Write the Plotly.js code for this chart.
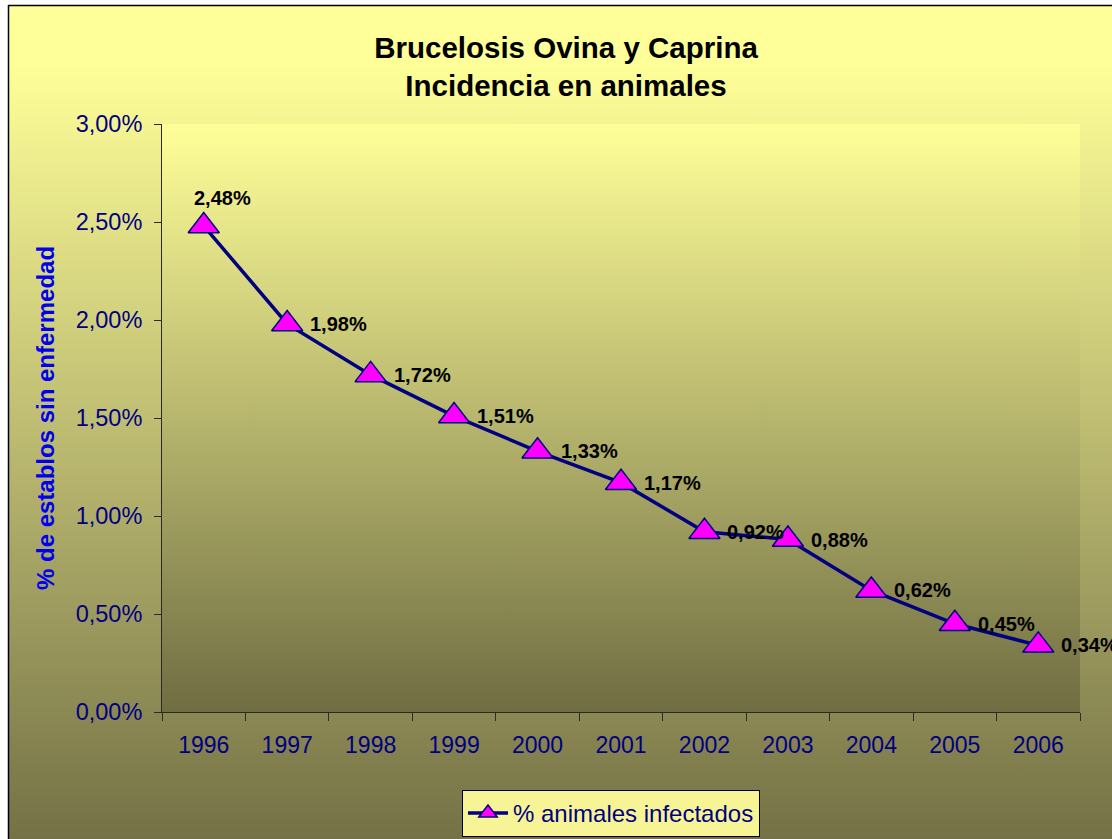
<!DOCTYPE html>
<html>
<head>
<meta charset="utf-8">
<script src="https://cdn.plot.ly/plotly-3.0.1.min.js"></script>
<style>
  html, body { margin: 0; padding: 0; background: #ffffff; }
  #chart { position: absolute; left: 0; top: 0; width: 1112px; height: 839px; }
</style>
</head>
<body>
<div id="chart"></div>
<script>
// ---- data ----
const years = ["1996","1997","1998","1999","2000","2001","2002","2003","2004","2005","2006"];
const infectados = [0.0248, 0.0198, 0.0172, 0.0151, 0.0133, 0.0117, 0.0092, 0.0088, 0.0062, 0.0045, 0.0034];
const seriesName = "% animales infectados";
const chartTitle = "Brucelosis Ovina y Caprina<br>Incidencia en animales";
const yTitle = "% de establos sin enfermedad";
const yTickVals = [0, 0.005, 0.01, 0.015, 0.02, 0.025, 0.03];

const FONT = "Liberation Sans, Arial, Helvetica, sans-serif";
const W = 1112, H = 839;
const M = {l: 162, r: 32, t: 124, b: 127, autoexpand: false};
const PW = W - M.l - M.r, PH = H - M.t - M.b;

function fmt(v) { return (v * 100).toFixed(2).replace('.', ',') + '%'; }

function gradSvg(c1, c2, o1) {
  const svg = "<svg xmlns='http://www.w3.org/2000/svg' width='100' height='100' preserveAspectRatio='none'>" +
    "<defs><linearGradient id='g' x1='0' y1='0' x2='0' y2='1'>" +
    "<stop offset='" + o1 + "' stop-color='" + c1 + "'/><stop offset='1' stop-color='" + c2 + "'/>" +
    "</linearGradient></defs><rect width='100' height='100' fill='url(#g)'/></svg>";
  return "data:image/svg+xml;base64," + btoa(svg);
}

// pixel -> paper helpers
const px = x => (x - M.l) / PW;
const py = y => (H - M.b - y) / PH;

const labelAnn = infectados.map((v, i) => i === 0 ? {
  x: i, y: v, xref: 'x', yref: 'y', text: '<b>' + fmt(v) + '</b>', showarrow: false,
  xanchor: 'center', yanchor: 'middle', xshift: 19, yshift: 28,
  font: {family: FONT, size: 20, color: '#000000'}
} : {
  x: i, y: v, xref: 'x', yref: 'y', text: '<b>' + fmt(v) + '</b>', showarrow: false,
  xanchor: 'left', yanchor: 'middle', xshift: 21, yshift: 0,
  font: {family: FONT, size: 20, color: '#000000'}
});

const trace = {
  x: years, y: infectados, type: 'scatter', mode: 'lines+markers', name: seriesName,
  line: {color: '#000080', width: 3.5},
  marker: {symbol: 'triangle-up', size: 27, color: '#FF00FF', line: {color: '#000080', width: 1.5}},
  cliponaxis: false
};

const layout = {
  width: W, height: H,
  margin: M,
  separators: ',.',
  paper_bgcolor: 'rgba(0,0,0,0)',
  plot_bgcolor: 'rgba(0,0,0,0)',
  font: {family: FONT, color: '#000080'},
  title: {
    text: '<b>' + chartTitle + '</b>',
    font: {family: FONT, size: 29.5, color: '#000000'},
    xref: 'container', x: 566 / W, xanchor: 'center',
    yref: 'container', y: 1 - 58 / H, yanchor: 'top'
  },
  xaxis: {
    type: 'category', range: [-0.5, 10.5],
    showline: true, linecolor: '#2a2a2a', linewidth: 1,
    ticks: 'outside', tickson: 'boundaries', ticklen: 8, tickcolor: '#2a2a2a', tickwidth: 1,
    showgrid: false, zeroline: false,
    tickfont: {family: FONT, size: 23, color: '#000080'},
    ticklabelstandoff: 12
  },
  yaxis: {
    range: [0, 0.03], tickvals: yTickVals, tickformat: '.2%',
    showline: true, linecolor: '#2a2a2a', linewidth: 1,
    ticks: 'outside', ticklen: 7, tickcolor: '#2a2a2a', tickwidth: 1,
    showgrid: false, zeroline: false,
    tickfont: {family: FONT, size: 23.5, color: '#000080'},
    ticklabelstandoff: 7,
    title: {text: '<b>' + yTitle + '</b>', font: {family: FONT, size: 24, color: '#0000EE'}, standoff: 14}
  },
  showlegend: true,
  legend: {
    orientation: 'h', xref: 'paper', xanchor: 'center',
    y: py(790), yanchor: 'top', itemwidth: 40,
    bgcolor: '#F7F495', bordercolor: '#000000', borderwidth: 1,
    font: {family: FONT, size: 24, color: '#000080'}
  },
  annotations: labelAnn,
  images: [
    {source: gradSvg('#FFFF99', '#747146', 0.07), xref: 'paper', yref: 'paper',
     x: px(8), y: py(5), sizex: (W + 20 - 8) / PW, sizey: (H - 5) / PH,
     sizing: 'stretch', xanchor: 'left', yanchor: 'top', layer: 'below'},
    {source: gradSvg('#FFFF99', '#6F6D42', 0), xref: 'paper', yref: 'paper',
     x: 0, y: 1, sizex: 1, sizey: 1,
     sizing: 'stretch', xanchor: 'left', yanchor: 'top', layer: 'below'}
  ],
  shapes: [
    {type: 'line', xref: 'paper', yref: 'paper', x0: px(8.5), x1: px(8.5), y0: py(5), y1: py(H + 10),
     line: {color: '#000000', width: 1.5}},
    {type: 'line', xref: 'paper', yref: 'paper', x0: px(8), x1: px(W + 10), y0: py(5.5), y1: py(5.5),
     line: {color: '#000000', width: 1.5}}
  ]
};
layout.legend.x = (611 - M.l) / PW;

Plotly.newPlot('chart', [trace], layout, {displayModeBar: false, staticPlot: true});
</script>
</body>
</html>
